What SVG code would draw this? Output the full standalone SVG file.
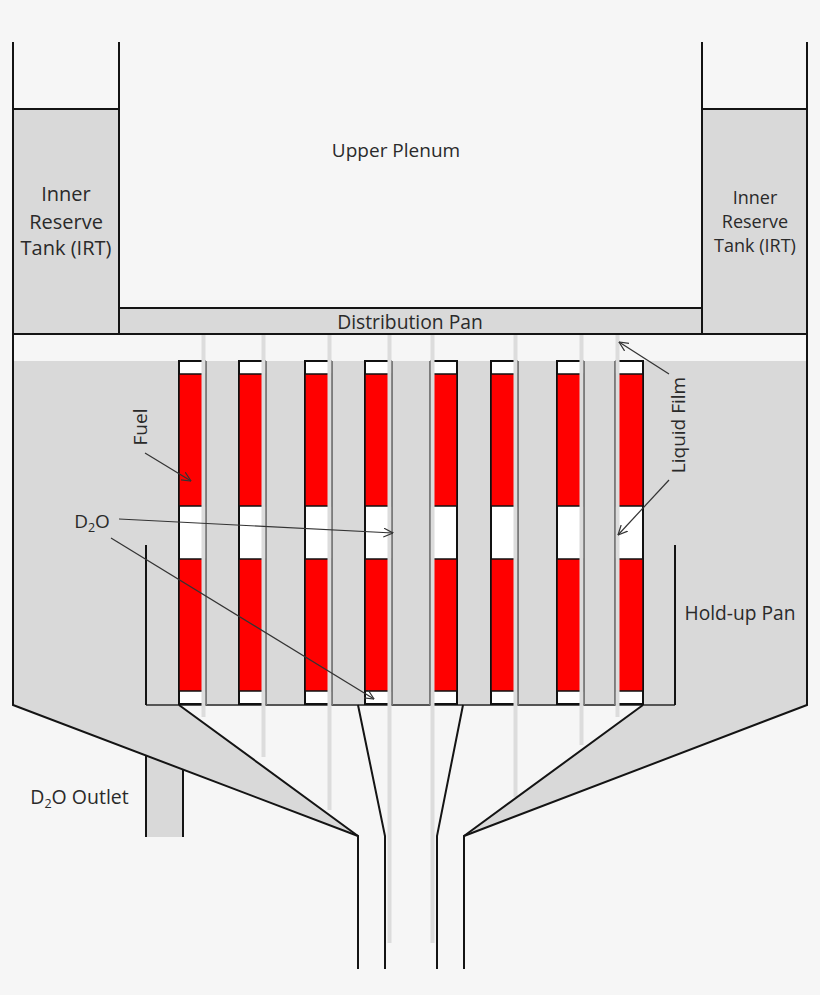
<svg xmlns="http://www.w3.org/2000/svg" width="820" height="995" viewBox="0 0 820 995">
<style>
text{font-family:"Open Sans","Noto Sans",sans-serif;font-size:19px;fill:#2a2a2a;text-anchor:middle}
.g{fill:#d9d9d9;stroke:none}
.l{fill:none;stroke:#141414;stroke-width:2}
.pan{fill:none;stroke:#555;stroke-width:1.8}
.edge{fill:none;stroke:#777;stroke-width:1.5}
.rod{fill:#fff;stroke:#111;stroke-width:2}
.fuel{fill:#f00;stroke:#111;stroke-width:1.5}
.film{stroke:#dcdcdc;stroke-width:4;fill:none}
.ptr{fill:none;stroke:#333;stroke-width:1.2;marker-end:url(#a)}
.small{font-size:18px}
.sub{font-size:12.500px}
</style>
<defs>
<marker id="a" viewBox="0 0 10 10" refX="9.5" refY="5" markerWidth="10" markerHeight="10" markerUnits="userSpaceOnUse" orient="auto"><path d="M0,0.5L9.500,5L0,9.500" fill="none" stroke="#333" stroke-width="1.2"/></marker>
</defs>
<rect width="820" height="995" fill="#f6f6f6"/>
<g id="vessel">
<rect class="g" x="13" y="109" width="106" height="225"/>
<rect class="g" x="702" y="109" width="105" height="225"/>
<rect class="g" x="119" y="308" width="583" height="26"/>
<path class="g" d="M13,361H807V705L464,836L643,705H179L358,836L13,705Z"/>
<path class="g" d="M146,755.500L183,769.500V837H146Z"/>
</g>
<path class="pan" d="M146,705H675"/>
<g id="rods">
<g id="rod1"><rect class="rod" x="179" y="361" width="25.500" height="343"/><rect class="fuel" x="179" y="374" width="25.500" height="132"/><rect class="fuel" x="179" y="559" width="25.500" height="132"/></g>
<g id="rod2"><rect class="rod" x="239" y="361" width="25.500" height="343"/><rect class="fuel" x="239" y="374" width="25.500" height="132"/><rect class="fuel" x="239" y="559" width="25.500" height="132"/></g>
<g id="rod3"><rect class="rod" x="305" y="361" width="25.500" height="343"/><rect class="fuel" x="305" y="374" width="25.500" height="132"/><rect class="fuel" x="305" y="559" width="25.500" height="132"/></g>
<g id="rod4"><rect class="rod" x="365" y="361" width="25.500" height="343"/><rect class="fuel" x="365" y="374" width="25.500" height="132"/><rect class="fuel" x="365" y="559" width="25.500" height="132"/></g>
<g id="rod5"><rect class="rod" x="431.500" y="361" width="25.500" height="343"/><rect class="fuel" x="431.500" y="374" width="25.500" height="132"/><rect class="fuel" x="431.500" y="559" width="25.500" height="132"/></g>
<g id="rod6"><rect class="rod" x="491" y="361" width="25.500" height="343"/><rect class="fuel" x="491" y="374" width="25.500" height="132"/><rect class="fuel" x="491" y="559" width="25.500" height="132"/></g>
<g id="rod7"><rect class="rod" x="557" y="361" width="25.500" height="343"/><rect class="fuel" x="557" y="374" width="25.500" height="132"/><rect class="fuel" x="557" y="559" width="25.500" height="132"/></g>
<g id="rod8"><rect class="rod" x="616.500" y="361" width="26.500" height="343"/><rect class="fuel" x="616.500" y="374" width="26.500" height="132"/><rect class="fuel" x="616.500" y="559" width="26.500" height="132"/></g>
</g>
<g id="films">
<path class="film" d="M203.500,334V717M263.500,334V757M329.500,334V810M389.500,334V943M432.500,334V943M515.500,334V797M581.500,334V745M617.500,334V717"/>
<path class="edge" d="M206.200,361V705M266.200,361V705M332.200,361V705M392.200,361V705M429.800,361V705M518.200,361V705M584.200,361V705M614.800,361V705"/>
</g>
<g id="connectors">
<path class="l" d="M13,42V705L358,836V969M119,42V334M13,109H119M13,334H807M119,308H702M702,42V334M702,109H807M807,42V705L464,836V969"/>
<path class="l" d="M146,545V705M675,705V545M179,705L358,836M643,705L464,836M358,705L385,836V969M463,705L437,836V969M146,755.500V837M183,769.500V837"/>
<path class="ptr" d="M145,453L191,481"/>
<path class="ptr" d="M119,519L393,533"/>
<path class="ptr" d="M111,538L374,699"/>
<path class="ptr" d="M669,374L619,342"/>
<path class="ptr" d="M669,480L618,535"/>
</g>
<g id="labels">
<text x="396" y="157">Upper Plenum</text>
<text x="66" y="201" style="font-size:20px">Inner</text><text x="66" y="229" style="font-size:20px">Reserve</text><text x="66" y="255" style="font-size:20px">Tank (IRT)</text>
<text class="small" x="755" y="204">Inner</text><text class="small" x="755" y="228">Reserve</text><text class="small" x="755" y="252">Tank (IRT)</text>
<text x="410" y="329" style="font-size:19.300px">Distribution Pan</text>
<text x="740" y="620" style="font-size:19.200px">Hold-up Pan</text>
<text x="92" y="528">D<tspan class="sub" dy="4">2</tspan><tspan dy="-4">O</tspan></text>
<text x="79.500" y="804" style="font-size:19.500px">D<tspan class="sub" dy="4">2</tspan><tspan dy="-4">O Outlet</tspan></text>
<text transform="translate(147,427) rotate(-90)" x="0" y="0">Fuel</text>
<text transform="translate(685,425) rotate(-90)" x="0" y="0">Liquid Film</text>
</g>
</svg>
